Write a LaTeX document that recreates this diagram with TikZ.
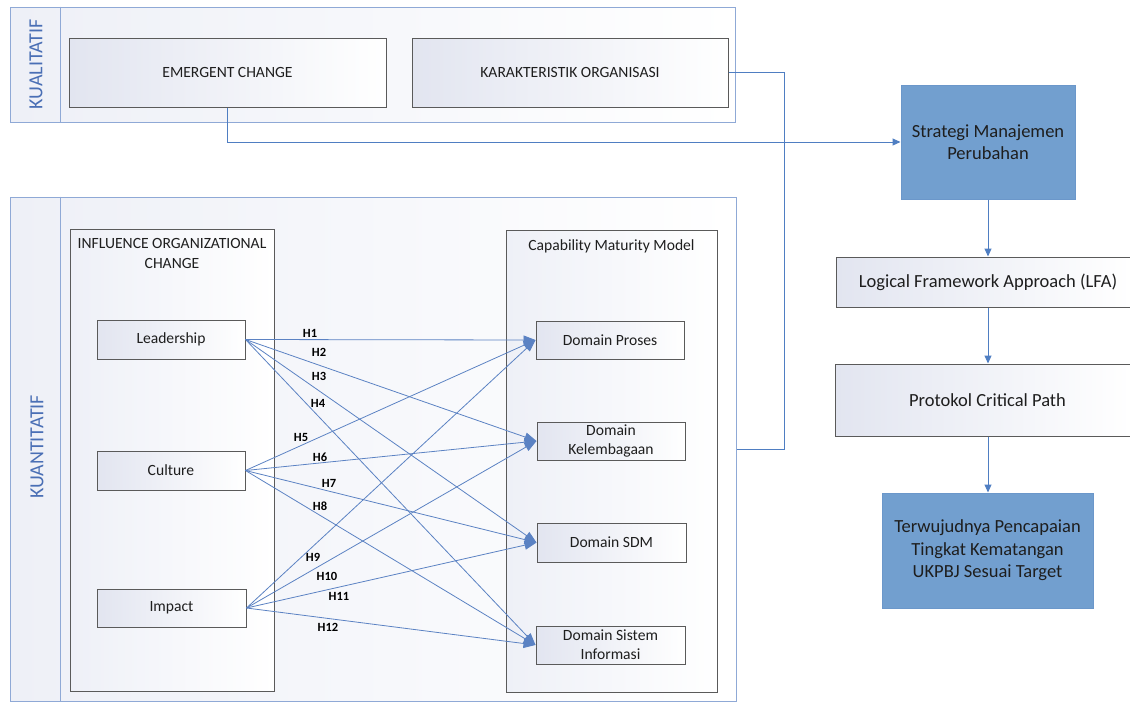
\documentclass[tikz,border=0pt]{standalone}
\usepackage{fontspec}
\setmainfont{Carlito}
\usetikzlibrary{arrows.meta}
\definecolor{lineblue}{HTML}{4F7EC2}
\definecolor{arrowblue}{HTML}{5B82C3}
\definecolor{frameblue}{HTML}{8FA9D6}
\definecolor{labelblue}{HTML}{4A6FB5}
\definecolor{fillblue}{HTML}{729FCF}
\definecolor{fillborder}{HTML}{6B97CA}
\definecolor{boxgray}{HTML}{5A5A5A}
\definecolor{gradl}{HTML}{E2E5F0}
\definecolor{lanel}{HTML}{EEF0F7}
\definecolor{txt}{HTML}{1E1E1E}
\tikzset{
  lanebox/.style={draw=frameblue, line width=1pt, left color=lanel, right color=white, inner sep=0pt},
  lanelabel/.style={rotate=90, text=labelblue, font=\fontsize{20}{22}\selectfont, inner sep=0pt},
  stdbox/.style={draw=boxgray, line width=1pt, left color=gradl, right color=white, inner sep=2pt,
    text=txt, font=\fontsize{15.6}{19}\selectfont, align=center},
  groupbox/.style={draw=boxgray, line width=1pt, left color=lanel, right color=white, inner sep=0pt},
  grouptitle/.style={text=txt, font=\fontsize{15.6}{20}\selectfont, align=center, inner sep=0pt},
  bigbox/.style={draw=boxgray, line width=1pt, left color=gradl, right color=white, inner sep=2pt,
    text=txt, font=\fontsize{18.5}{22}\selectfont, align=center},
  bluebox/.style={draw=fillborder, line width=1pt, fill=fillblue, inner sep=2pt,
    text=txt, font=\fontsize{18.5}{22.5}\selectfont, align=center},
  harrow/.style={draw=arrowblue, line width=0.8pt, -{Triangle[length=12pt,width=9pt]}},
  varrow/.style={draw=lineblue, line width=1pt, -{Triangle[length=8pt,width=7pt]}},
  plainline/.style={draw=lineblue, line width=1pt},
  hlabel/.style={font=\bfseries\fontsize{12.5}{14}\selectfont, text=black, inner sep=0pt},
}
\begin{document}
\begin{tikzpicture}[x=1pt,y=-1pt]
\useasboundingbox (0,0) rectangle (1130,702);

% lanes
\node[lanebox, minimum width=725pt, minimum height=115pt] (kual) at (372.5,64.5) {};
\draw[frameblue, line width=1pt] ([xshift=51pt]kual.north west) -- ([xshift=51pt]kual.south west);
\node[lanelabel] (kuallbl) at (36,64.5) {KUALITATIF};

\node[lanebox, minimum width=726pt, minimum height=504pt] (kuan) at (373,449) {};
\draw[frameblue, line width=1pt] ([xshift=51pt]kuan.north west) -- ([xshift=51pt]kuan.south west);
\node[lanelabel] (kuanlbl) at (37,447) {KUANTITATIF};

% qualitative boxes
\node[stdbox, minimum width=317pt, minimum height=69pt] (emerg) at (227.5,72.5) {EMERGENT CHANGE};
\node[stdbox, minimum width=316pt, minimum height=69pt] (karak) at (570,72.5) {KARAKTERISTIK ORGANISASI};

% group boxes
\node[groupbox, minimum width=204pt, minimum height=462pt] (infl) at (172,460) {};
\node[grouptitle] (infltitle) at (172,253) {INFLUENCE ORGANIZATIONAL\\CHANGE};
\node[groupbox, minimum width=211pt, minimum height=462pt] (cmm) at (611.5,461) {};
\node[grouptitle] (cmmtitle) at (611.5,246) {Capability Maturity Model};

% sources
\node[stdbox, minimum width=148pt, minimum height=39pt] (lead) at (171,339.5) {Leadership};
\node[stdbox, minimum width=148pt, minimum height=39pt] (cult) at (171,470.5) {Culture};
\node[stdbox, minimum width=149pt, minimum height=38pt] (imp) at (171.5,608) {Impact};

% targets
\node[stdbox, minimum width=148pt, minimum height=38pt] (dp) at (610,340) {Domain Proses};
\node[stdbox, minimum width=148pt, minimum height=38pt] (dk) at (611,441) {Domain\\Kelembagaan};
\node[stdbox, minimum width=149pt, minimum height=39pt] (dsdm) at (611.5,542.5) {Domain SDM};
\node[stdbox, minimum width=149pt, minimum height=38pt] (dsi) at (610.5,645) {Domain Sistem\\Informasi};

% hypothesis arrows
\draw[harrow] (lead.east) -- (dp.west);
\draw[harrow] (lead.east) -- (dk.west);
\draw[harrow] (lead.east) -- (dsdm.west);
\draw[harrow] (lead.east) -- (dsi.west);
\draw[harrow] (cult.east) -- (dp.west);
\draw[harrow] (cult.east) -- (dk.west);
\draw[harrow] (cult.east) -- (dsdm.west);
\draw[harrow] (cult.east) -- (dsi.west);
\draw[harrow] (imp.east) -- (dp.west);
\draw[harrow] (imp.east) -- (dk.west);
\draw[harrow] (imp.east) -- (dsdm.west);
\draw[harrow] (imp.east) -- (dsi.west);

\node[hlabel] (h1) at (310,333) {H1};
\node[hlabel] (h2) at (319,352) {H2};
\node[hlabel] (h3) at (319,376) {H3};
\node[hlabel] (h4) at (318,403) {H4};
\node[hlabel] (h5) at (301,437) {H5};
\node[hlabel] (h6) at (320,457) {H6};
\node[hlabel] (h7) at (329,483) {H7};
\node[hlabel] (h8) at (320,506) {H8};
\node[hlabel] (h9) at (313,557) {H9};
\node[hlabel] (h10) at (327,576) {H10};
\node[hlabel] (h11) at (339,596) {H11};
\node[hlabel] (h12) at (328,627) {H12};

% right column
\node[bluebox, minimum width=174pt, minimum height=114pt] (strat) at (988,142) {Strategi Manajemen\\Perubahan};
\node[bigbox, minimum width=295pt, minimum height=50pt] (lfa) at (983.5,282) {\hspace*{9pt}Logical Framework Approach (LFA)};
\node[bigbox, minimum width=296pt, minimum height=72pt] (prot) at (983,400) {\hspace*{9pt}Protokol Critical Path};
\node[bluebox, minimum width=211pt, minimum height=115pt] (terw) at (987.5,550.5) {Terwujudnya Pencapaian\\Tingkat Kematangan\\UKPBJ Sesuai Target};

\draw[varrow] (strat.south) -- (strat.south |- lfa.north);
\draw[varrow] (strat.south |- lfa.south) -- (strat.south |- prot.north);
\draw[varrow] (strat.south |- prot.south) -- (strat.south |- terw.north);

% connectors from qualitative boxes
\draw[plainline, -{Triangle[length=8pt,width=7pt]}] (emerg.south) |- (strat.west);
\coordinate (kx) at (784,0);
\draw[plainline] (karak.east) -| (kx |- kuan.east) -- (kuan.east);
\end{tikzpicture}
\end{document}
